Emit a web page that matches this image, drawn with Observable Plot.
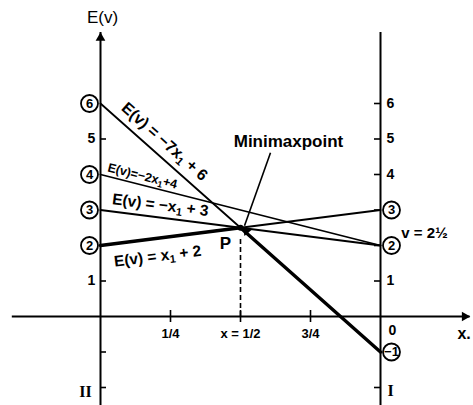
<!DOCTYPE html>
<html><head><meta charset="utf-8">
<script src="https://cdn.jsdelivr.net/npm/d3@7"></script>
<script src="https://cdn.jsdelivr.net/npm/@observablehq/plot@0.6"></script>
<style>body{margin:0;background:#fff}</style>
</head><body><div id="chart"></div>
<script>
// ---- data ----
const strategyLabels = ["E(v) = −7x₁ + 6", "E(v)=−2x₁+4", "E(v) = −x₁ + 3", "E(v) = x₁ + 2"];
const payoffAtII = [6, 4, 3, 2];   // value at x1 = 0 (axis II)
const payoffAtI  = [-1, 2, 2, 3];  // value at x1 = 1 (axis I)
const xTicks = [0.25, 0.5, 0.75];
const xTickLabels = ["1/4", "x = 1/2", "3/4"];
const leftTicks = [5, 1, -1, -2];
const leftTickLabels = [5, 1];
const rightTicks = [6, 5, 4, 3, 2, 1, -2];
const rightTickLabels = [6, 5, 4, 1];
const leftCircled = [6, 4, 3, 2];
const rightCircled = [3, 2, -1];
const valueLabel = "v = 2½";
const minimaxLabel = "Minimaxpoint";

// ---- layout ----
const W = 473, H = 405;
const ml = 100, mr = 93, mt = 103, mb = 89;
const kx = (W - ml - mr) / 1;
const ky = (H - mt - mb) / 6;
const yAxisExt = [-2.6, 8.0];
const xAxisExt = [-0.315, 1.32];

const lines = strategyLabels.map((name, i) => ({
  name, b: payoffAtII[i], a: payoffAtI[i] - payoffAtII[i], i
}));
const segs = lines.flatMap(l => [{x: 0, y: l.b, k: l.i}, {x: 1, y: l.a + l.b, k: l.i}]);
const L1 = lines[0], L4 = lines[3];
const px = (L1.b - L4.b) / (L4.a - L1.a);
const py = L4.a * px + L4.b;
const envelope = [{x: 0, y: L4.b}, {x: px, y: py}, {x: 1, y: L1.a + L1.b}];

const angle = a => -Math.atan(a * ky / kx) * 180 / Math.PI;
const labelLayout = [
  {x: 0.222, dx: 2, dy: -17, size: 16},
  {x: 0.15, dx: 0, dy: -9, size: 12.5},
  {x: 0.214, dx: 0, dy: -12.5, size: 15.5},
  {x: 0.204, dx: 0, dy: 18, size: 15.5}
];
const font = "'Liberation Sans', Arial, Helvetica, sans-serif";

const labelMarks = lines.map((l, i) => {
  const L = labelLayout[i];
  return Plot.text([l], {
    x: L.x, y: l.a * L.x + l.b, text: d => d.name, rotate: angle(l.a),
    dx: L.dx, dy: L.dy, fontSize: L.size, fill: "black", fontWeight: "bold"
  });
});

const tx = 6 / kx, ty = 6 / ky;
const arrowStart = {x: px + 30 / kx, y: py + 75 / ky};
const arrowTip = {x: px + 4 / kx, y: py + 2 / ky};
const dir = [ (arrowTip.x - arrowStart.x) * kx, -(arrowTip.y - arrowStart.y) * ky ];
const dlen = Math.hypot(dir[0], dir[1]);
const arrowRot = Math.atan2(dir[0], -dir[1]) * 180 / Math.PI;
const triOff = 5.4;

const chart = Plot.plot({
  width: W, height: H,
  marginLeft: ml, marginRight: mr, marginTop: mt, marginBottom: mb,
  x: {domain: [0, 1], axis: null},
  y: {domain: [0, 6], axis: null},
  style: {fontFamily: font, background: "white", overflow: "visible"},
  marks: [
    Plot.ruleY([0], {x1: xAxisExt[0], x2: xAxisExt[1], stroke: "black", strokeWidth: 2}),
    Plot.ruleX([0], {y1: yAxisExt[0], y2: yAxisExt[1], stroke: "black", strokeWidth: 2}),
    Plot.ruleX([1], {y1: yAxisExt[0], y2: yAxisExt[1], stroke: "black", strokeWidth: 2}),
    Plot.dot([0], {x: 0, y: yAxisExt[1], symbol: "triangle", r: 3.6, fill: "black", dy: triOff}),
    Plot.dot([0], {x: xAxisExt[1], y: 0, symbol: "triangle", r: 3.6, fill: "black", rotate: 90, dx: -triOff}),
    Plot.ruleY(leftTicks, {y: d => d, x1: 0, x2: tx, stroke: "black", strokeWidth: 1.6}),
    Plot.ruleY(rightTicks, {y: d => d, x1: 1 - tx, x2: 1, stroke: "black", strokeWidth: 1.6}),
    Plot.ruleX(xTicks, {x: d => d, y1: -ty, y2: ty, stroke: "black", strokeWidth: 1.6}),
    Plot.text(leftTickLabels, {x: 0, y: d => d, text: d => String(d), dx: -9, fontSize: 14, fontWeight: "bold"}),
    Plot.text(rightTickLabels, {x: 1, y: d => d, text: d => String(d), dx: 10, fontSize: 14, fontWeight: "bold"}),
    Plot.text(xTicks, {x: d => d, y: 0, text: (d, i) => xTickLabels[i], dy: 17, fontSize: 13, fontWeight: "bold"}),
    Plot.text(["0"], {x: 1, y: 0, text: d => d, dx: 12, dy: 14, fontSize: 14, fontWeight: "bold"}),
    Plot.text(["x."], {x: xAxisExt[1], y: 0, text: d => d, dx: -6, dy: 17, fontSize: 16, fontWeight: "bold"}),
    Plot.text(["E(v)"], {x: 0, y: yAxisExt[1], text: d => d, dx: 2, dy: -15, fontSize: 17}),
    Plot.text(["II"], {x: 0, y: -2.13, text: d => d, dx: -15, fontSize: 16, fontFamily: "'Liberation Serif', serif", fontWeight: "bold"}),
    Plot.text(["I"], {x: 1, y: -2.1, text: d => d, dx: 10, fontSize: 16, fontFamily: "'Liberation Serif', serif", fontWeight: "bold"}),
    Plot.line(segs, {x: "x", y: "y", z: "k", stroke: "black", strokeWidth: 1.8}),
    Plot.line(envelope, {x: "x", y: "y", stroke: "black", strokeWidth: 3.4}),
    Plot.ruleX([px], {x: d => d, y1: 0, y2: py - 0.25, stroke: "black", strokeWidth: 1.6, strokeDasharray: "5,3"}),
    Plot.dot([0], {x: px, y: py, r: 3, fill: "black"}),
    Plot.dot(leftCircled, {x: 0, y: d => d, r: 8.5, dx: -11, fill: "white", stroke: "black", strokeWidth: 1.8}),
    Plot.text(leftCircled, {x: 0, y: d => d, text: d => String(d), dx: -11, fontSize: 13, fontWeight: "bold"}),
    Plot.dot(rightCircled, {x: 1, y: d => d, r: 8.5, dx: 11, fill: "white", stroke: "black", strokeWidth: 1.8}),
    Plot.text(rightCircled, {x: 1, y: d => d, text: d => d < 0 ? "−" + Math.abs(d) : String(d), dx: 11, fontSize: 13, fontWeight: "bold"}),
    ...labelMarks,
    Plot.text(["P"], {x: px, y: py, text: d => d, dx: -15, dy: 16, fontSize: 17, fontWeight: "bold"}),
    Plot.text([valueLabel], {x: 1, y: py, text: d => d, dx: 44, dy: 5, fontSize: 15, fontWeight: "bold"}),
    Plot.text([minimaxLabel], {x: arrowStart.x, y: arrowStart.y, text: d => d, dx: 18, dy: -11, fontSize: 17, fontWeight: "bold"}),
    Plot.link([0], {x1: arrowStart.x, y1: arrowStart.y, x2: arrowTip.x, y2: arrowTip.y, stroke: "black", strokeWidth: 1.6}),
    Plot.dot([0], {x: arrowTip.x, y: arrowTip.y, symbol: "triangle", r: 3.6, fill: "black", rotate: arrowRot,
      dx: -triOff * dir[0] / dlen, dy: triOff * dir[1] / dlen})
  ]
});

// render the "₁" as a real lowered subscript digit
chart.querySelectorAll("text").forEach(t => {
  const s = t.textContent;
  if (!s.includes("₁")) return;
  const parts = s.split("₁");
  while (t.firstChild) t.removeChild(t.firstChild);
  const ns = "http://www.w3.org/2000/svg";
  parts.forEach((p, j) => {
    if (j > 0) {
      const sub = document.createElementNS(ns, "tspan");
      sub.setAttribute("font-size", "70%");
      sub.setAttribute("dy", "0.3em");
      sub.textContent = "1";
      t.appendChild(sub);
    }
    const tp = document.createElementNS(ns, "tspan");
    if (j > 0) tp.setAttribute("dy", "-0.21em");
    tp.textContent = p;
    t.appendChild(tp);
  });
});
document.getElementById("chart").append(chart);
</script>
</body></html>
